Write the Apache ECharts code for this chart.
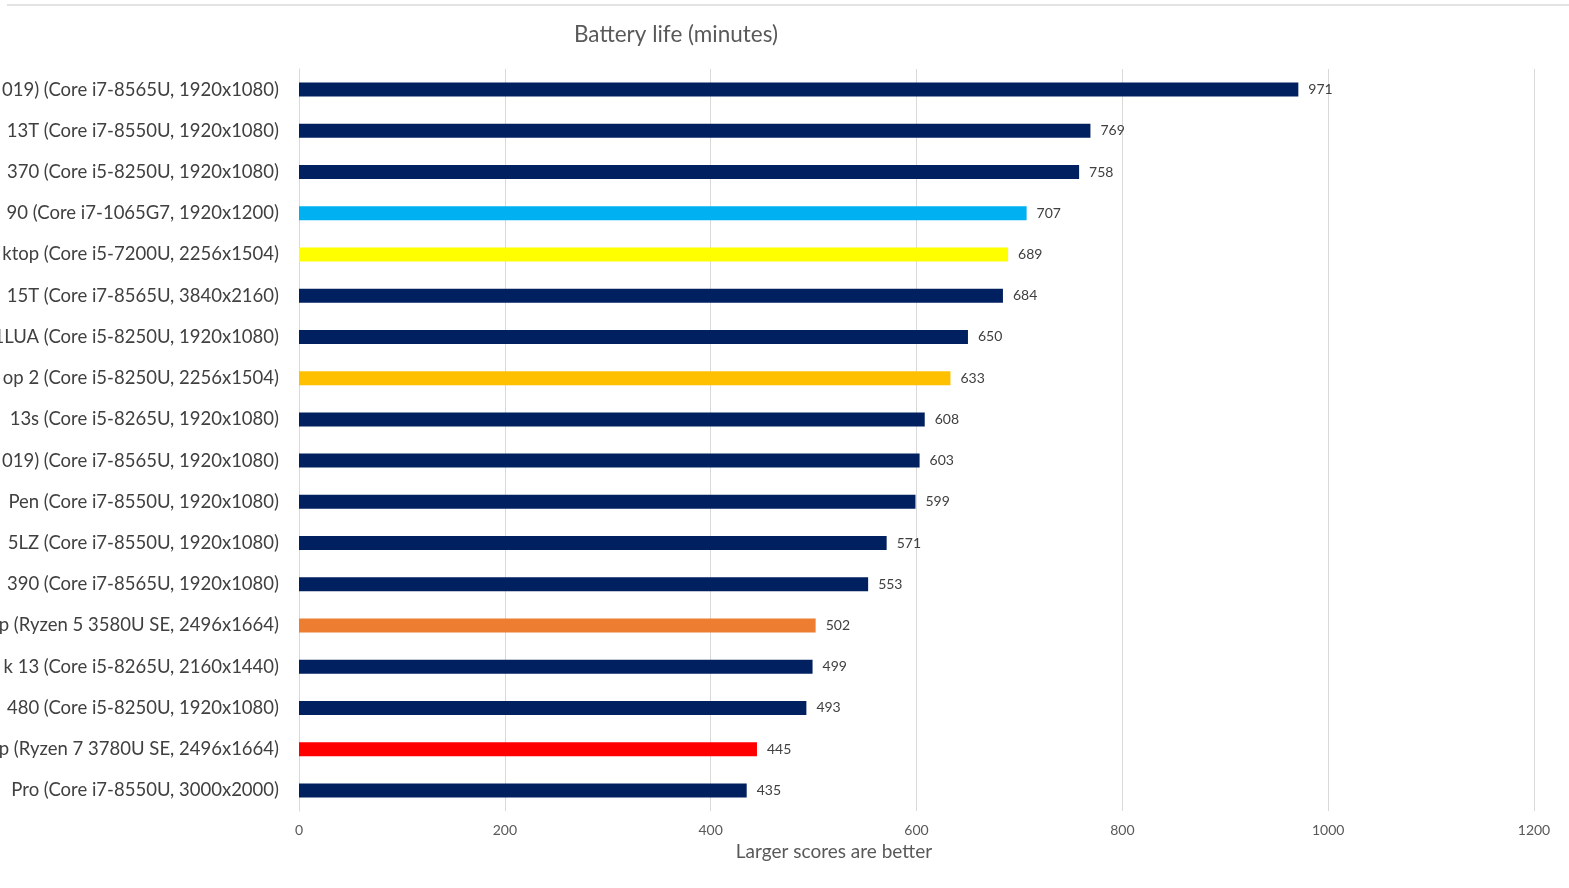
<!DOCTYPE html>
<html>
<head>
<meta charset="utf-8">
<script src="https://cdn.jsdelivr.net/npm/echarts@6/dist/echarts.min.js"></script>
<style>
html,body{margin:0;padding:0;background:#fff;}
#chart{width:1569px;height:888px;}
</style>
</head>
<body>
<div id="chart"></div>
<script>
const categories = [
  "019) (Core i7-8565U, 1920x1080)",
  "13T (Core i7-8550U, 1920x1080)",
  "370 (Core i5-8250U, 1920x1080)",
  "90 (Core i7-1065G7, 1920x1200)",
  "ktop (Core i5-7200U, 2256x1504)",
  "15T (Core i7-8565U, 3840x2160)",
  "1LUA (Core i5-8250U, 1920x1080)",
  "op 2 (Core i5-8250U, 2256x1504)",
  "13s (Core i5-8265U, 1920x1080)",
  "019) (Core i7-8565U, 1920x1080)",
  "Pen (Core i7-8550U, 1920x1080)",
  "5LZ (Core i7-8550U, 1920x1080)",
  "390 (Core i7-8565U, 1920x1080)",
  "p (Ryzen 5 3580U SE, 2496x1664)",
  "k 13 (Core i5-8265U, 2160x1440)",
  "480 (Core i5-8250U, 1920x1080)",
  "p (Ryzen 7 3780U SE, 2496x1664)",
  "Pro (Core i7-8550U, 3000x2000)"
];
const batteryMinutes = [971, 769, 758, 707, 689, 684, 650, 633, 608, 603, 599, 571, 553, 502, 499, 493, 445, 435];
const barColors = ["#002060","#002060","#002060","#00B0F0","#FFFF00","#002060","#002060","#FFC000","#002060","#002060","#002060","#002060","#002060","#ED7D31","#002060","#002060","#FF0000","#002060"];
const xTicks = [0, 200, 400, 600, 800, 1000, 1200];

const chart = echarts.init(document.getElementById('chart'));
const font = 'Lato, "Open Sans", sans-serif';
chart.setOption({
  animation: false,
  backgroundColor: '#fff',
  graphic: [{
    type: 'line', shape: {x1: 7, y1: 5, x2: 1569, y2: 5},
    style: {stroke: '#e3e3e3', lineWidth: 2}
  }],
  title: [
    {text: 'Battery life (minutes)', left: 671, top: 18, textAlign: 'center',
     textStyle: {fontFamily: font, fontSize: 22.5, fontWeight: 'normal', color: '#595959'}},
    {text: 'Larger scores are better', left: 829, top: 837, textAlign: 'center',
     textStyle: {fontFamily: font, fontSize: 19, fontWeight: 'normal', color: '#595959'}}
  ],
  grid: {left: 299, right: 35, top: 69, bottom: 77, containLabel: false, outerBoundsMode: 'none'},
  xAxis: {
    type: 'value', min: xTicks[0], max: xTicks[xTicks.length - 1], interval: 200,
    axisLine: {show: false}, axisTick: {show: false},
    splitLine: {lineStyle: {color: '#d9d9d9', width: 1}},
    axisLabel: {fontFamily: font, fontSize: 14, color: '#595959', margin: 12, formatter: v => String(v)}
  },
  yAxis: {
    type: 'category', data: categories, inverse: true,
    axisLine: {show: true, lineStyle: {color: '#d9d9d9'}}, axisTick: {show: false},
    axisLabel: {fontFamily: font, fontSize: 18.5, color: '#404040', margin: 20}
  },
  series: [{
    type: 'bar', barWidth: 14,
    data: batteryMinutes.map((v, i) => ({value: v, itemStyle: {color: barColors[i]}})),
    label: {show: true, position: 'right', distance: 10, fontFamily: font, fontSize: 14, color: '#404040'}
  }]
});
</script>
</body>
</html>
